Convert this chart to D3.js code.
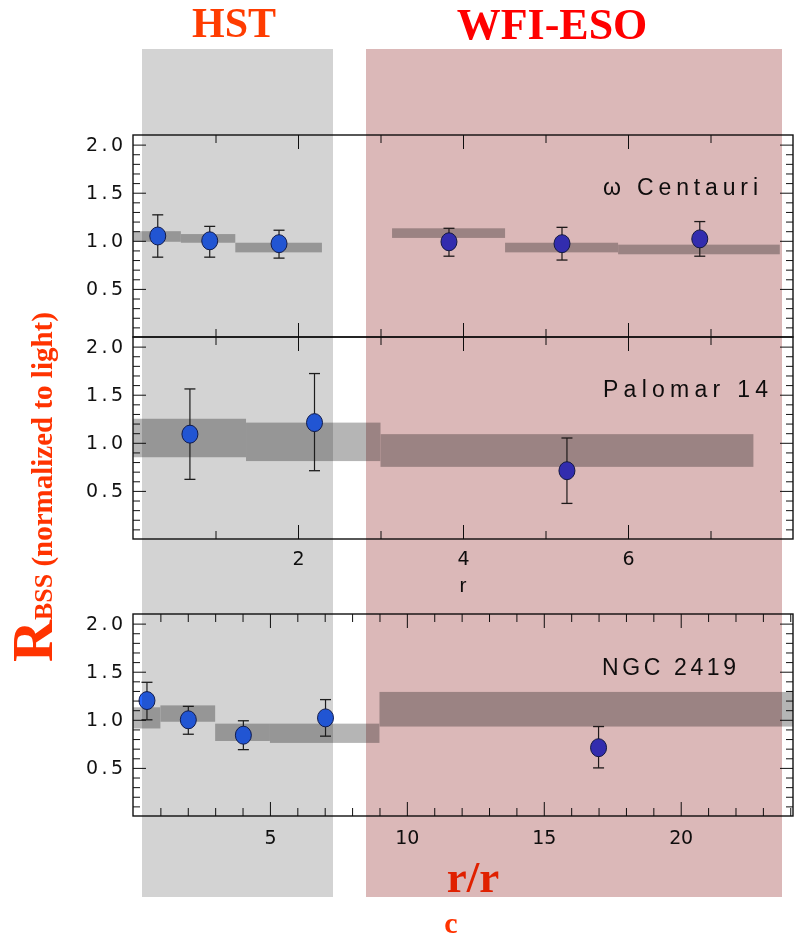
<!DOCTYPE html>
<meta charset="utf-8">
<head>
    <title>BSS radial distribution</title>
    <style>body { margin: 0; background: #fff; }</style>
</head>

<script src="https://d3js.org/d3.v7.min.js"></script>

<div id="dataVis"></div>

<script>

    // cluster names, one per panel
    var clusterNames = ["ω Centauri", "Palomar 14", "NGC 2419"];

    // observed points: [r, R_BSS, lower, upper]
    var omegaHst = [[0.30, 1.05, 0.83, 1.27], [0.93, 1.00, 0.83, 1.15], [1.77, 0.97, 0.82, 1.11]];
    var omegaWfi = [[3.83, 0.99, 0.84, 1.13], [5.20, 0.97, 0.80, 1.14], [6.87, 1.02, 0.84, 1.20]];
    var palomarHst = [[0.69, 1.09, 0.62, 1.56], [2.20, 1.21, 0.71, 1.72]];
    var palomarWfi = [[5.26, 0.71, 0.37, 1.05]];
    var ngcHst = [[0.51, 1.20, 1.00, 1.39], [2.02, 1.00, 0.85, 1.14], [4.03, 0.84, 0.69, 0.99], [7.03, 1.02, 0.83, 1.21]];
    var ngcWfi = [[17.0, 0.71, 0.50, 0.93]];

    // reference bins (normalized light): [r0, r1, lower, upper]
    var omegaBins = [[0, 0.58, 0.99, 1.10], [0.58, 1.24, 0.98, 1.07], [1.24, 2.29, 0.88, 0.98],
                     [3.14, 4.51, 1.03, 1.13], [4.51, 5.88, 0.88, 0.98], [5.88, 7.84, 0.86, 0.96]];
    var palomarBins = [[0, 1.37, 0.85, 1.25], [1.37, 3.0, 0.81, 1.21], [3.0, 7.52, 0.75, 1.09]];
    var ngcBins = [[0, 1, 0.91, 1.13], [1, 3, 0.98, 1.15], [3, 5, 0.78, 0.96], [5, 9, 0.76, 0.96], [9, 24.1, 0.93, 1.29]];

    // tick labels
    var yTicks = [0.5, 1.0, 1.5, 2.0];
    var rTicks = [2, 4, 6];
    var rrTicks = [5, 10, 15, 20];

    var width = 798, height = 939;
    var xLeft = 133, xRight = 793, panelH = 202;
    var sans = "'Liberation Sans', Arial, sans-serif";
    var tickFont = "'DejaVu Sans', sans-serif";
    var serif = "'Liberation Serif', 'Times New Roman', serif";

    var svg = d3.select("#dataVis")
        .append("svg")
        .attr("width", width)
        .attr("height", height);

    svg.append("rect").attr("width", width).attr("height", height).attr("fill", "#fff");

    var xInner = d3.scaleLinear().domain([0, 8]).range([xLeft, xRight]);
    var xOuter = d3.scaleLinear().domain([0, 24.1]).range([xLeft, xRight]);

    var panels = [
        { name: clusterNames[0], top: 135, x: xInner, hst: omegaHst, wfi: omegaWfi, bins: omegaBins,
          lx: 603, ly: 195, lw: 155, major: rTicks, minor: [1, 3, 5, 7], labels: false },
        { name: clusterNames[1], top: 337, x: xInner, hst: palomarHst, wfi: palomarWfi, bins: palomarBins,
          lx: 603, ly: 397, lw: 165, major: rTicks, minor: [1, 3, 5, 7], labels: true, pad: 13 },
        { name: clusterNames[2], top: 614, x: xOuter, hst: ngcHst, wfi: ngcWfi, bins: ngcBins,
          lx: 602, ly: 675, lw: 134, major: rrTicks, minor: d3.range(1, 25).filter(function (v) { return v % 5 != 0; }),
          labels: true, pad: 15 }
    ];

    var yMinor = d3.range(1, 21).filter(function (i) { return i % 5 != 0; }).map(function (i) { return i / 10; });

    panels.forEach(function (p) {
        var g = svg.append("g");
        var y = d3.scaleLinear().domain([0, 2.1]).range([p.top + panelH, p.top]);
        var x = p.x;

        // light bins
        g.selectAll("rect.bin")
            .data(p.bins)
            .join("rect")
            .attr("class", "bin")
            .attr("x", function (d) { return x(d[0]); })
            .attr("width", function (d) { return x(d[1]) - x(d[0]); })
            .attr("y", function (d) { return y(d[3]); })
            .attr("height", function (d) { return y(d[2]) - y(d[3]); })
            .attr("fill", "#b5b5b5");

        // points with error bars
        [[p.hst, "#2766ff"], [p.wfi, "#3a3cf2"]].forEach(function (s) {
            var pts = g.append("g").selectAll("g").data(s[0]).join("g");
            pts.append("line")
                .attr("x1", function (d) { return x(d[0]); })
                .attr("x2", function (d) { return x(d[0]); })
                .attr("y1", function (d) { return y(d[2]); })
                .attr("y2", function (d) { return y(d[3]); })
                .attr("stroke", "#222").attr("stroke-width", 1.2);
            [2, 3].forEach(function (k) {
                pts.append("line")
                    .attr("x1", function (d) { return x(d[0]) - 5.5; })
                    .attr("x2", function (d) { return x(d[0]) + 5.5; })
                    .attr("y1", function (d) { return y(d[k]); })
                    .attr("y2", function (d) { return y(d[k]); })
                    .attr("stroke", "#222").attr("stroke-width", 1.3);
            });
            pts.append("ellipse")
                .attr("cx", function (d) { return x(d[0]); })
                .attr("cy", function (d) { return y(d[1]); })
                .attr("rx", 8).attr("ry", 9)
                .attr("fill", s[1])
                .attr("stroke", "#14205a").attr("stroke-width", 1);
        });

        // ticks on all four sides, pointing inward
        function tick(axis, transform, vals, size) {
            var a = g.append("g")
                .attr("transform", transform)
                .call(axis.tickValues(vals).tickSize(-size).tickFormat(""));
            a.select(".domain").remove();
            a.selectAll("line").attr("stroke", "#111");
            return a;
        }
        tick(d3.axisLeft(y), "translate(" + xLeft + ",0)", yMinor, 7);
        tick(d3.axisLeft(y), "translate(" + xLeft + ",0)", yTicks, 13);
        tick(d3.axisRight(y), "translate(" + xRight + ",0)", yMinor, 7);
        tick(d3.axisRight(y), "translate(" + xRight + ",0)", yTicks, 13);
        tick(d3.axisTop(x), "translate(0," + p.top + ")", p.minor, 8);
        tick(d3.axisTop(x), "translate(0," + p.top + ")", p.major, 14);
        tick(d3.axisBottom(x), "translate(0," + (p.top + panelH) + ")", p.minor, 8);
        tick(d3.axisBottom(x), "translate(0," + (p.top + panelH) + ")", p.major, 14);

        // y tick labels
        var ya = g.append("g")
            .attr("transform", "translate(" + xLeft + ",0)")
            .call(d3.axisLeft(y).tickValues(yTicks).tickSize(0).tickPadding(10).tickFormat(d3.format(".1f")));
        ya.select(".domain").remove();
        ya.selectAll("text")
            .attr("fill", "#111")
            .style("font-family", tickFont)
            .style("font-size", "19px")
            .attr("textLength", 37)
            .attr("lengthAdjust", "spacing");

        // x tick labels
        if (p.labels) {
            var xa = g.append("g")
                .attr("transform", "translate(0," + (p.top + panelH) + ")")
                .call(d3.axisBottom(x).tickValues(p.major).tickSize(0).tickPadding(p.pad));
            xa.select(".domain").remove();
            xa.selectAll("text")
                .attr("fill", "#111")
                .style("font-family", tickFont)
                .style("font-size", "19px")
                .attr("textLength", function (d) { return String(d).length * 12; })
                .attr("lengthAdjust", "spacing");
        }

        // frame
        g.append("rect")
            .attr("x", xLeft).attr("y", p.top)
            .attr("width", xRight - xLeft).attr("height", panelH)
            .attr("fill", "none").attr("stroke", "#111").attr("stroke-width", 1.4);

        // cluster name
        g.append("text")
            .attr("x", p.lx).attr("y", p.ly)
            .attr("textLength", p.lw).attr("lengthAdjust", "spacing")
            .attr("fill", "#111")
            .style("font-family", sans)
            .style("font-size", "23px")
            .text(p.name);
    });

    // "r" under the shared axis of the two upper panels
    svg.append("text")
        .attr("x", xInner(4)).attr("y", 592)
        .attr("text-anchor", "middle")
        .attr("fill", "#111")
        .style("font-family", sans)
        .style("font-size", "21px")
        .text("r");

    // instrument bands
    svg.append("rect")
        .attr("x", 142).attr("y", 49).attr("width", 191).attr("height", 848)
        .attr("fill", "#d3d3d3")
        .style("mix-blend-mode", "multiply");
    svg.append("rect")
        .attr("x", 366).attr("y", 49).attr("width", 416).attr("height", 848)
        .attr("fill", "#dbb8b8")
        .style("mix-blend-mode", "multiply");

    // titles
    svg.append("text")
        .attr("x", 234).attr("y", 37)
        .attr("text-anchor", "middle")
        .attr("fill", "#ff3c00")
        .style("font-family", serif)
        .style("font-weight", "bold")
        .style("font-size", "42px")
        .text("HST");
    svg.append("text")
        .attr("x", 552).attr("y", 39)
        .attr("text-anchor", "middle")
        .attr("fill", "#ff0000")
        .style("font-family", serif)
        .style("font-weight", "bold")
        .style("font-size", "44px")
        .text("WFI-ESO");

    // y axis label
    var yl = svg.append("text")
        .attr("transform", "translate(52,662) rotate(-90)")
        .attr("fill", "#ff3300")
        .style("font-family", serif)
        .style("font-weight", "bold");
    yl.append("tspan").style("font-size", "58px").text("R");
    yl.append("tspan").style("font-size", "26px").text("BSS");
    yl.append("tspan").style("font-size", "29px").text(" (normalized to light)");

    // x axis label
    svg.append("text")
        .attr("x", 473).attr("y", 892)
        .attr("text-anchor", "middle")
        .attr("fill", "#e02000")
        .style("font-family", serif)
        .style("font-weight", "bold")
        .style("font-size", "45px")
        .text("r/r");
    svg.append("text")
        .attr("x", 451).attr("y", 933)
        .attr("text-anchor", "middle")
        .attr("fill", "#ff3300")
        .style("font-family", serif)
        .style("font-weight", "bold")
        .style("font-size", "30px")
        .text("c");

</script>
